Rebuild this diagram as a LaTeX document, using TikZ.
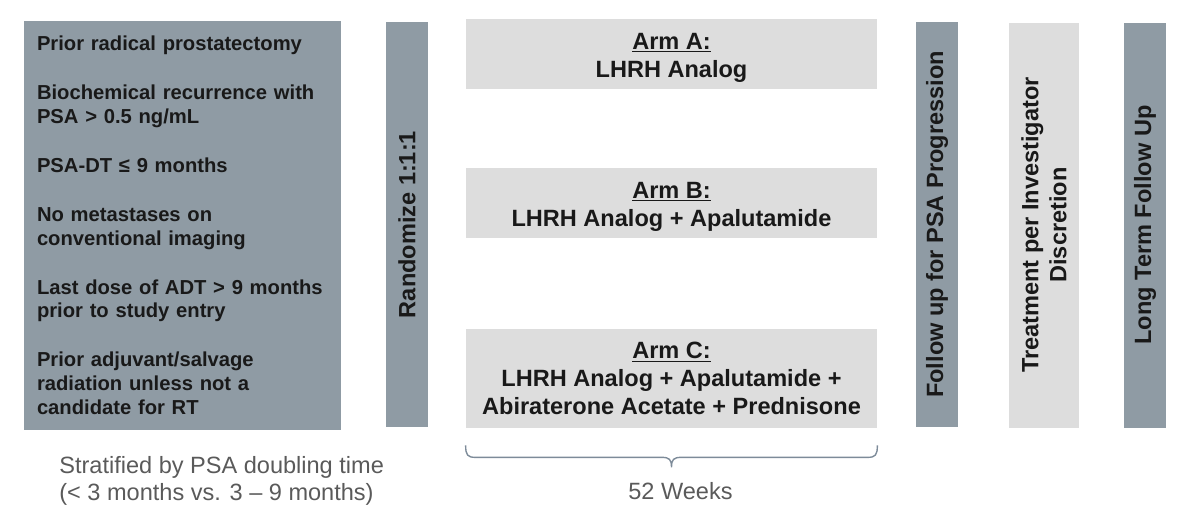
\documentclass[tikz,border=0pt]{standalone}
\usepackage{fontspec}
\setmainfont{Liberation Sans}
\usepackage{tikz}
\usetikzlibrary{calc}
\newdimen\unitpx \unitpx=0.02cm
\definecolor{barblue}{RGB}{143,155,164}
\definecolor{boxgrey}{RGB}{221,221,221}
\definecolor{txtgrey}{RGB}{90,90,90}
\definecolor{bracegrey}{RGB}{125,139,153}
\begin{document}
\begin{tikzpicture}[x=0.02cm,y=-0.02cm,
bigfont/.style = {font=\fontsize{13.4}{15.9}\selectfont\bfseries, text=black!90},
crit/.style = {fill=barblue, text=black!90, align=left, text width=291\unitpx, inner xsep=13\unitpx, inner ysep=0pt, minimum width=317\unitpx, minimum height=409\unitpx, font=\fontsize{11.5}{13.6}\selectfont\bfseries},
armbx/.style = {fill=boxgrey, align=center, inner sep=0pt, minimum width=411\unitpx, minimum height=#1\unitpx, bigfont},
vbar/.style args = {#1/#2}{fill=#1, rotate=90, align=center, inner sep=0pt, minimum width=405\unitpx, minimum height=#2\unitpx, bigfont},
note/.style = {text=txtgrey, inner sep=0pt, font=\fontsize{13.4}{15.3}\selectfont},
bracket/.style = {draw=bracegrey, line width=0.8pt}]
\useasboundingbox (0,0) rectangle (1200,522);
\node (crit) [crit] at (182.5,225.5) {Prior radical prostatectomy\\[14.2pt]
Biochemical recurrence with\\PSA > 0.5 ng/mL\\[14.2pt]
PSA-DT ≤ 9 months\\[14.2pt]
No metastases on\\conventional imaging\\[14.2pt]
Last dose of ADT > 9 months\\prior to study entry\\[14.2pt]
Prior adjuvant/salvage\\radiation unless not a\\candidate for RT};
\node (strat) [note, anchor=north west, align=left] at (59,456) {Stratified by PSA doubling time\\(< 3 months vs. 3 – 9 months)};
\node (rand) [vbar=barblue/42] at (407,224.5) {Randomize 1:1:1};
\node (armA) [armbx=70] at (671.5,54) {\rule{0pt}{13.2pt}\underline{Arm A:}\\LHRH Analog};
\node (armB) [armbx=70] at (671.5,203) {\rule{0pt}{13.2pt}\underline{Arm B:}\\LHRH Analog + Apalutamide};
\node (armC) [armbx=99] at (671.5,378.5) {\underline{Arm C:}\\LHRH Analog + Apalutamide +\\Abiraterone Acetate + Prednisone};
\node (follow) [vbar=barblue/42] at (937,224.5) {Follow up for PSA Progression};
\node (treat) [vbar=boxgrey/70] at (1044,225) {Treatment per Investigator\\Discretion};
\node (longfu) [vbar=barblue/42] at (1145,225) {Long Term Follow Up};
% 52 week bracket under the arms
\coordinate (bl) at ($(armC.south west)+(0,17)$);
\coordinate (br) at ($(armC.south east)+(0,17)$);
\coordinate (bm) at ($(armC.south)+(0,39)$);
\draw[bracket] (bl) .. controls +(0,10) and +(-8,0) .. ($(bl)+(10,12)$) -- ($(bm)+(-10,-10)$) .. controls +(8,0) and +(0,-8) .. (bm) .. controls +(0,-8) and +(-8,0) .. ($(bm)+(10,-10)$) -- ($(br)+(-10,12)$) .. controls +(8,0) and +(0,10) .. (br);
\node (wks) [note] at ($(bm)+(9,24)$) {52 Weeks};
\end{tikzpicture}
\end{document}
